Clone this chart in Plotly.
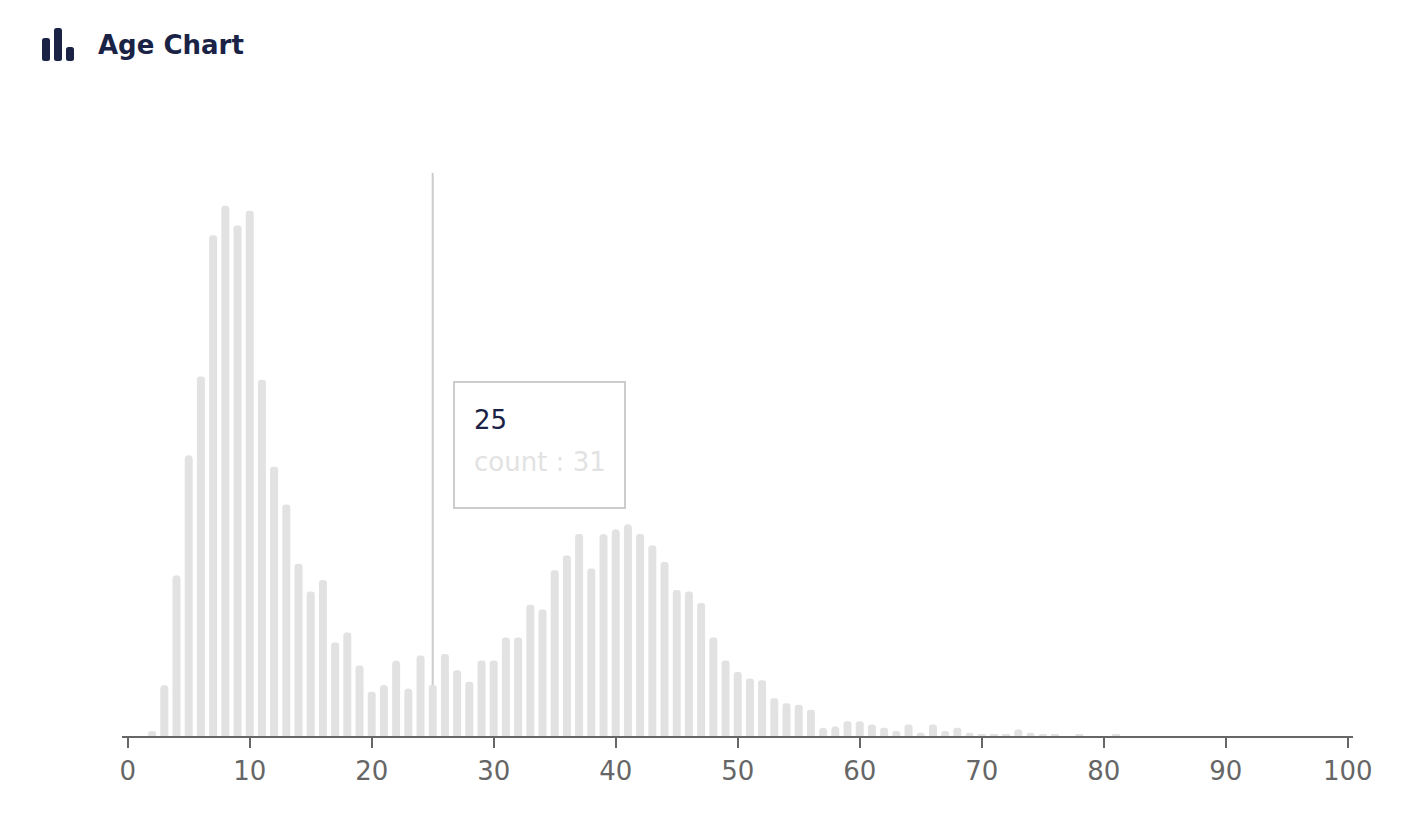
import plotly.graph_objects as go

ages = list(range(0, 101))
counts = [0, 0, 3, 31, 98, 171, 219, 305, 323, 311, 320, 217, 164, 141, 105, 88, 95, 57, 63, 43,
          27, 31, 46, 29, 49, 31, 50, 40, 33, 46, 46, 60, 60, 80, 77, 101, 110, 123, 102, 123,
          126, 129, 123, 116, 106, 89, 88, 81, 60, 46, 39, 35, 34, 23, 20, 19, 16, 5, 6, 9,
          9, 7, 5, 3, 7, 2, 7, 3, 5, 2, 1, 1, 1, 4, 2, 1, 1, 0, 1, 0,
          0, 1] + [0] * 19
tick_values = list(range(0, 101, 10))
tick_labels = [str(v) for v in tick_values]
hover_age = 25
title_text = "Age Chart"
FONT = "DejaVu Sans, sans-serif"
W, H = 1410, 836
L, R, T, B = 122, 57, 173, 100


def px(x):
    return (x - L) / (W - L - R)


def py(y):
    return 1 - (y - T) / (H - T - B)


def rounded(x0, y0, x1, y1, r):
    return (
        f"M {px(x0)} {py(y0 + r)} Q {px(x0)} {py(y0)} {px(x0 + r)} {py(y0)} "
        f"L {px(x1 - r)} {py(y0)} Q {px(x1)} {py(y0)} {px(x1)} {py(y0 + r)} "
        f"L {px(x1)} {py(y1 - r)} Q {px(x1)} {py(y1)} {px(x1 - r)} {py(y1)} "
        f"L {px(x0 + r)} {py(y1)} Q {px(x0)} {py(y1)} {px(x0)} {py(y1 - r)} Z"
    )


fig = go.Figure(go.Bar(
    x=ages, y=counts, width=0.655,
    marker=dict(color="#e2e2e2", line=dict(width=0), cornerradius=4),
    hovertemplate="%{x}<br>count : %{y}<extra></extra>",
))

icon = [(42, 38, 50, 61), (54, 28, 62, 61), (66, 47, 74, 61)]
shapes = [dict(type="path", xref="paper", yref="paper", path=rounded(*b, 2.5),
               fillcolor="#1a2345", line=dict(width=0)) for b in icon]
shapes.append(dict(type="line", xref="x", yref="paper", x0=hover_age, x1=hover_age, y0=0, y1=1,
                   line=dict(color="#cccccc", width=2), layer="below"))
shapes.append(dict(type="rect", xref="paper", yref="paper", x0=px(454), x1=px(625), y0=py(508), y1=py(382),
                   line=dict(color="#cccccc", width=2), fillcolor="white"))


def label(x, y, text, size, color, weight=400):
    return dict(xref="paper", yref="paper", x=px(x), y=py(y), xanchor="left", yanchor="middle",
                text=text, showarrow=False, borderpad=0,
                font=dict(family=FONT, size=size, color=color, weight=weight))


fig.update_layout(
    width=W, height=H, margin=dict(l=L, r=R, t=T, b=B, pad=0),
    paper_bgcolor="white", plot_bgcolor="white", showlegend=False,
    font=dict(family=FONT, color="#666666"),
    xaxis=dict(range=[-0.467, 100.43], tickmode="array", tickvals=tick_values, ticktext=tick_labels,
               ticks="outside", ticklen=10, tickwidth=2, tickcolor="#666666",
               showline=True, linecolor="#666666", linewidth=2, showgrid=False, zeroline=False,
               ticklabelstandoff=1,
               tickfont=dict(family=FONT, size=26, color="#666666"), layer="below traces"),
    yaxis=dict(range=[0, 343], visible=False),
    shapes=shapes,
    annotations=[
        label(97, 45, title_text, 26, "#1a2345", 700),
        label(473, 420, str(hover_age), 26, "#1a2345"),
        label(473, 462, f"count : {counts[hover_age]}", 26, "#e2e2e2"),
    ],
)

fig.write_html("out.html", config=dict(displayModeBar=False),
               post_script="document.body.style.margin='0';document.body.style.overflow='hidden';")
